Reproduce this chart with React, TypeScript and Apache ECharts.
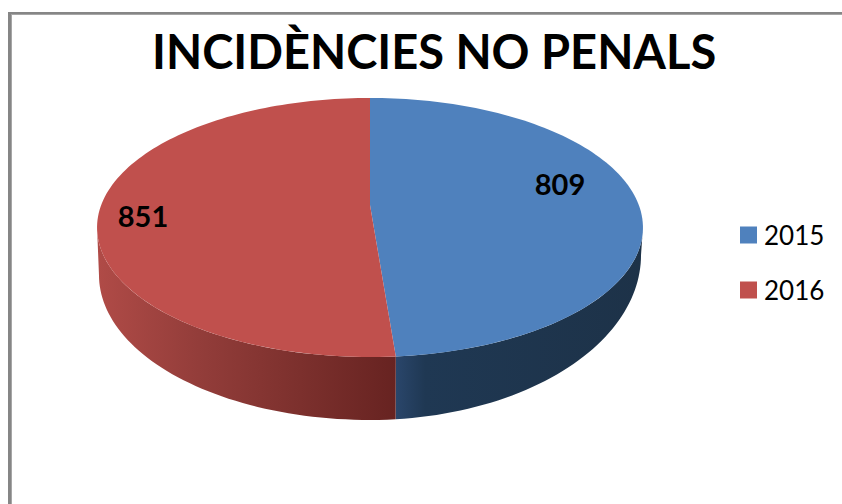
import React, { useEffect, useRef } from "react";
import * as echarts from "echarts";

const titleText = "INCIDÈNCIES NO PENALS";
const years = ["2015", "2016"];
const values = [809, 851];

const FONT = "Lato, Carlito, sans-serif";
const CX = 370;
const K = 0.1737;
const A = 268.8;
const TOP_Y0 = 205;
const TOP_B = 125.6;
const BOTTOM_A = 266.9;
const TOTAL = values.reduce((a, b) => a + b, 0);

type Look = {
  top: string;
  sideStops: { offset: number; color: string }[];
  bottomY0: number;
  bottomB: number;
  sideEnd: number;
  labelX: number;
  labelY: number;
};

const looks: Look[] = [
  {
    top: "#4F81BD",
    sideStops: [
      { offset: 0, color: "#2A466B" },
      { offset: 0.12, color: "#1F3853" },
      { offset: 1, color: "#1D3248" },
    ],
    bottomY0: 226.3,
    bottomB: 160,
    sideEnd: 100,
    labelX: 560,
    labelY: 183,
  },
  {
    top: "#C0504D",
    sideStops: [
      { offset: 0, color: "#B04B47" },
      { offset: 0.34, color: "#933D3A" },
      { offset: 0.68, color: "#7C302D" },
      { offset: 1, color: "#672321" },
    ],
    bottomY0: 249.8,
    bottomB: 140.6,
    sideEnd: 260,
    labelX: 143,
    labelY: 215,
  },
];

function project(deg: number, a: number, y0: number, b: number): number[] {
  const t = (deg * Math.PI) / 180;
  const s = Math.sin(t);
  const c = -Math.cos(t);
  const d = 1 - K * c;
  return [CX + (a * s) / d, y0 + (b * c) / d];
}

function sweep(from: number, to: number, fn: (deg: number) => number[]): number[][] {
  const n = Math.max(2, Math.ceil(Math.abs(to - from) / 1.5));
  const pts: number[][] = [];
  for (let i = 0; i <= n; i++) pts.push(fn(from + ((to - from) * i) / n));
  return pts;
}

function sliceRenderer(index: number) {
  const before = values.slice(0, index).reduce((a, b) => a + b, 0);
  const start = (before / TOTAL) * 360;
  const end = ((before + values[index]) / TOTAL) * 360;
  const seam = (values[0] / TOTAL) * 360;
  const look = looks[index];
  return () => {
    const topPt = (d: number) => project(d, A, TOP_Y0, TOP_B);
    const botPt = (d: number) => project(d, BOTTOM_A, look.bottomY0, look.bottomB);
    const sideTop = sweep(seam, look.sideEnd, topPt);
    const sideBottom = sweep(look.sideEnd, seam, botPt);
    const sectorPts = [[CX, TOP_Y0], ...sweep(start, end, topPt)];
    return {
      type: "group",
      children: [
        {
          type: "polygon",
          shape: { points: [...sideTop, ...sideBottom] },
          style: {
            fill: new echarts.graphic.LinearGradient(
              index === 0 ? 0 : 1,
              0,
              index === 0 ? 1 : 0,
              0,
              look.sideStops.map((st) => ({
                offset: index === 0 ? st.offset : 1 - st.offset,
                color: st.color,
              })).sort((p, q) => p.offset - q.offset)
            ),
          },
        },
        {
          type: "polygon",
          shape: { points: sectorPts },
          style: { fill: look.top },
        },
        {
          type: "text",
          style: {
            x: look.labelX,
            y: look.labelY,
            text: String(values[index]),
            fill: "#000000",
            font: `bold 29px ${FONT}`,
            textAlign: "center",
            textVerticalAlign: "middle",
          },
        },
      ],
    };
  };
}

export default function App() {
  const ref = useRef<HTMLDivElement>(null);
  useEffect(() => {
    document.body.style.margin = "0";
    const chart = echarts.init(ref.current!, undefined, { renderer: "svg" });
    chart.setOption({
      animation: false,
      backgroundColor: "#ffffff",
      title: {
        text: titleText,
        left: 147,
        top: 22,
        textStyle: { fontFamily: FONT, fontWeight: "bold", fontSize: 47, color: "#000000" },
      },
      legend: {
        data: years,
        orient: "vertical",
        left: 735,
        top: 217,
        icon: "rect",
        itemWidth: 17,
        itemHeight: 17,
        itemGap: 29,
        selectedMode: false,
        textStyle: { fontFamily: FONT, fontSize: 26, color: "#000000", padding: [0, 0, 0, 2] },
      },
      series: years.map((name, i) => ({
        type: "custom",
        name,
        coordinateSystem: "none",
        data: [[values[i]]],
        itemStyle: { color: looks[i].top },
        renderItem: sliceRenderer(i),
        silent: true,
      })),
      graphic: [
        { type: "rect", shape: { x: 8, y: 12, width: 3, height: 492 }, style: { fill: "#868686" } },
        { type: "rect", shape: { x: 11, y: 15, width: 1, height: 489 }, style: { fill: "#A6A6A6" } },
        { type: "rect", shape: { x: 8, y: 12, width: 834, height: 2 }, style: { fill: "#868686" } },
        { type: "rect", shape: { x: 11, y: 14, width: 831, height: 1 }, style: { fill: "#A6A6A6" } },
      ],
    });
    return () => chart.dispose();
  }, []);
  return <div ref={ref} style={{ width: 842, height: 504 }} />;
}
